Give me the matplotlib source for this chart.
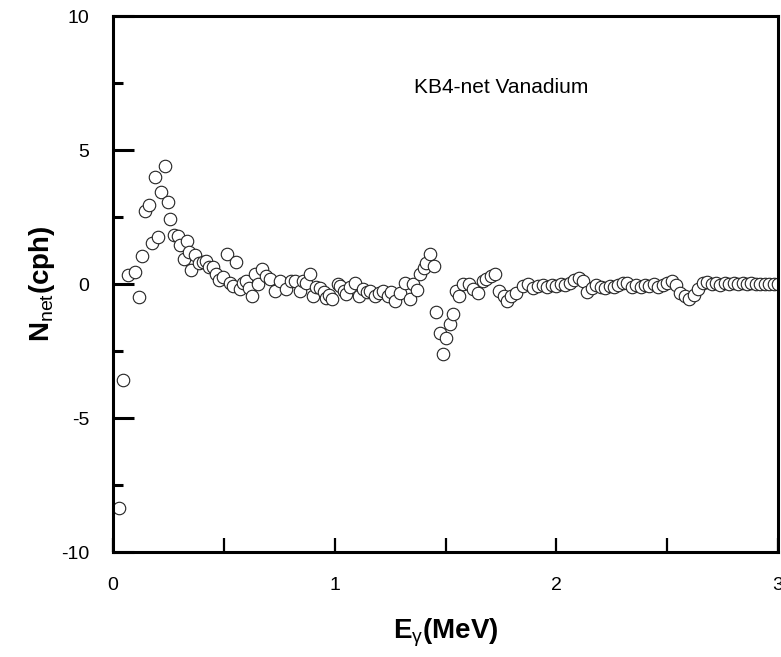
import numpy as np
import matplotlib
matplotlib.use('Agg')
import matplotlib.pyplot as plt
from matplotlib.ticker import MultipleLocator

plt.rcParams['font.family'] = ['Liberation Sans', 'DejaVu Sans']
plt.rcParams['axes.unicode_minus'] = False
plt.rcParams['mathtext.fontset'] = 'custom'
plt.rcParams['mathtext.rm'] = 'Liberation Sans'
plt.rcParams['mathtext.bf'] = 'Liberation Sans:bold'
plt.rcParams['mathtext.it'] = 'Liberation Sans:italic'

# gamma energy (MeV) and net count rate (cph)
energy = [0.029, 0.044, 0.068, 0.100, 0.117, 0.131, 0.143, 0.161, 0.174, 0.188,
          0.204, 0.218, 0.236, 0.248, 0.258, 0.273, 0.291, 0.302, 0.320, 0.335,
          0.344, 0.350, 0.372, 0.389, 0.405, 0.419, 0.435, 0.452, 0.464, 0.480,
          0.495, 0.512, 0.527, 0.542, 0.557, 0.572, 0.585, 0.599, 0.612, 0.625,
          0.640, 0.655, 0.672, 0.692, 0.707, 0.730, 0.752, 0.780, 0.805, 0.820,
          0.842, 0.857, 0.870, 0.887, 0.902, 0.915, 0.932, 0.950, 0.962, 0.975,
          0.990, 1.015, 1.022, 1.040, 1.053, 1.070, 1.090, 1.110, 1.128, 1.145,
          1.158, 1.180, 1.200, 1.218, 1.240, 1.255, 1.270, 1.293, 1.315, 1.338,
          1.353, 1.371, 1.383, 1.405, 1.413, 1.432, 1.446, 1.458, 1.476, 1.488,
          1.503, 1.518, 1.533, 1.548, 1.560, 1.578, 1.605, 1.623, 1.646, 1.668,
          1.683, 1.706, 1.725, 1.743, 1.766, 1.776, 1.796, 1.818, 1.848, 1.871,
          1.893, 1.916, 1.940, 1.960, 1.980, 2.000, 2.020, 2.040, 2.060, 2.080,
          2.100, 2.120, 2.140, 2.160, 2.180, 2.200, 2.220, 2.240, 2.260, 2.280,
          2.300, 2.320, 2.340, 2.360, 2.380, 2.400, 2.420, 2.440, 2.460, 2.480,
          2.500, 2.520, 2.540, 2.560, 2.580, 2.600, 2.620, 2.640, 2.660, 2.680,
          2.700, 2.720, 2.740, 2.760, 2.780, 2.800, 2.820, 2.840, 2.860, 2.880,
          2.900, 2.920, 2.940, 2.960, 2.980, 3.000]
netRate = [-8.34, -3.60, 0.34, 0.46, -0.49, 1.06, 2.73, 2.93, 1.54, 4.00,
           1.76, 3.45, 4.39, 3.05, 2.43, 1.83, 1.81, 1.45, 0.93, 1.61,
           1.21, 0.53, 1.08, 0.80, 0.84, 0.86, 0.62, 0.64, 0.36, 0.14,
           0.25, 1.11, 0.05, -0.07, 0.81, -0.20, 0.02, 0.11, -0.15, -0.45,
           0.36, 0.00, 0.57, 0.30, 0.17, -0.26, 0.11, -0.20, 0.11, 0.10,
           -0.26, 0.11, 0.05, 0.39, -0.45, -0.10, -0.14, -0.30, -0.51, -0.40,
           -0.57, 0.00, -0.07, -0.25, -0.39, -0.10, 0.05, -0.45, -0.20, -0.30,
           -0.26, -0.45, -0.35, -0.26, -0.45, -0.30, -0.64, -0.32, 0.05, -0.57,
           -0.01, -0.24, 0.36, 0.60, 0.80, 1.11, 0.67, -1.03, -1.82, -2.60,
           -2.03, -1.51, -1.13, -0.26, -0.45, -0.01, -0.01, -0.20, -0.32, 0.11,
           0.17, 0.30, 0.39, -0.26, -0.45, -0.64, -0.45, -0.32, -0.07, -0.01,
           -0.14, -0.07, -0.05, -0.10, -0.02, -0.08, 0.00, -0.05, 0.05, 0.15,
           0.22, 0.12, -0.30, -0.15, -0.05, -0.10, -0.15, -0.08, -0.12, -0.02,
           0.05, 0.02, -0.10, -0.05, -0.12, -0.02, -0.08, 0.00, -0.10, -0.03,
           0.05, 0.10, -0.05, -0.35, -0.45, -0.55, -0.40, -0.20, 0.05, 0.08,
           0.00, 0.02, -0.03, 0.02, 0.00, 0.03, 0.00, 0.02, 0.00, 0.02,
           0.00, 0.01, 0.00, 0.01, 0.00, 0.00]

fig = plt.figure(figsize=(7.81, 6.57), dpi=100)
ax = fig.add_axes([0.1447, 0.1598, 0.8515, 0.8158])

ax.plot(energy, netRate, linestyle='none', marker='o', markersize=9,
        markerfacecolor='white', markeredgecolor='#222222', markeredgewidth=0.8)

ax.set_xlim(0, 3)
ax.set_ylim(-10, 10)
ax.xaxis.set_major_locator(MultipleLocator(1))
ax.xaxis.set_minor_locator(MultipleLocator(0.5))
ax.yaxis.set_major_locator(MultipleLocator(5))
ax.yaxis.set_minor_locator(MultipleLocator(2.5))

for spine in ax.spines.values():
    spine.set_linewidth(2.2)

ax.tick_params(axis='y', which='major', direction='in', length=15, width=2.2,
               labelsize=14, pad=17)
ax.tick_params(axis='y', which='minor', direction='in', length=7.5, width=2.2)
ax.tick_params(axis='x', which='major', direction='in', length=10, width=1.6,
               labelsize=14, pad=18)
ax.tick_params(axis='x', which='minor', direction='in', length=10, width=1.6)

ax.set_xlabel(r'$\mathbf{E}_{\mathrm{\gamma}}$(MeV)', fontsize=20,
              fontweight='bold', labelpad=16)
ax.set_ylabel(r'$\mathbf{N}_{\mathrm{net}}$(cph)', fontsize=20,
              fontweight='bold', labelpad=3)

ax.text(1.36, 7.33, 'KB4-net Vanadium', fontsize=15, va='center', ha='left')

fig.savefig('out.png', dpi=100)
